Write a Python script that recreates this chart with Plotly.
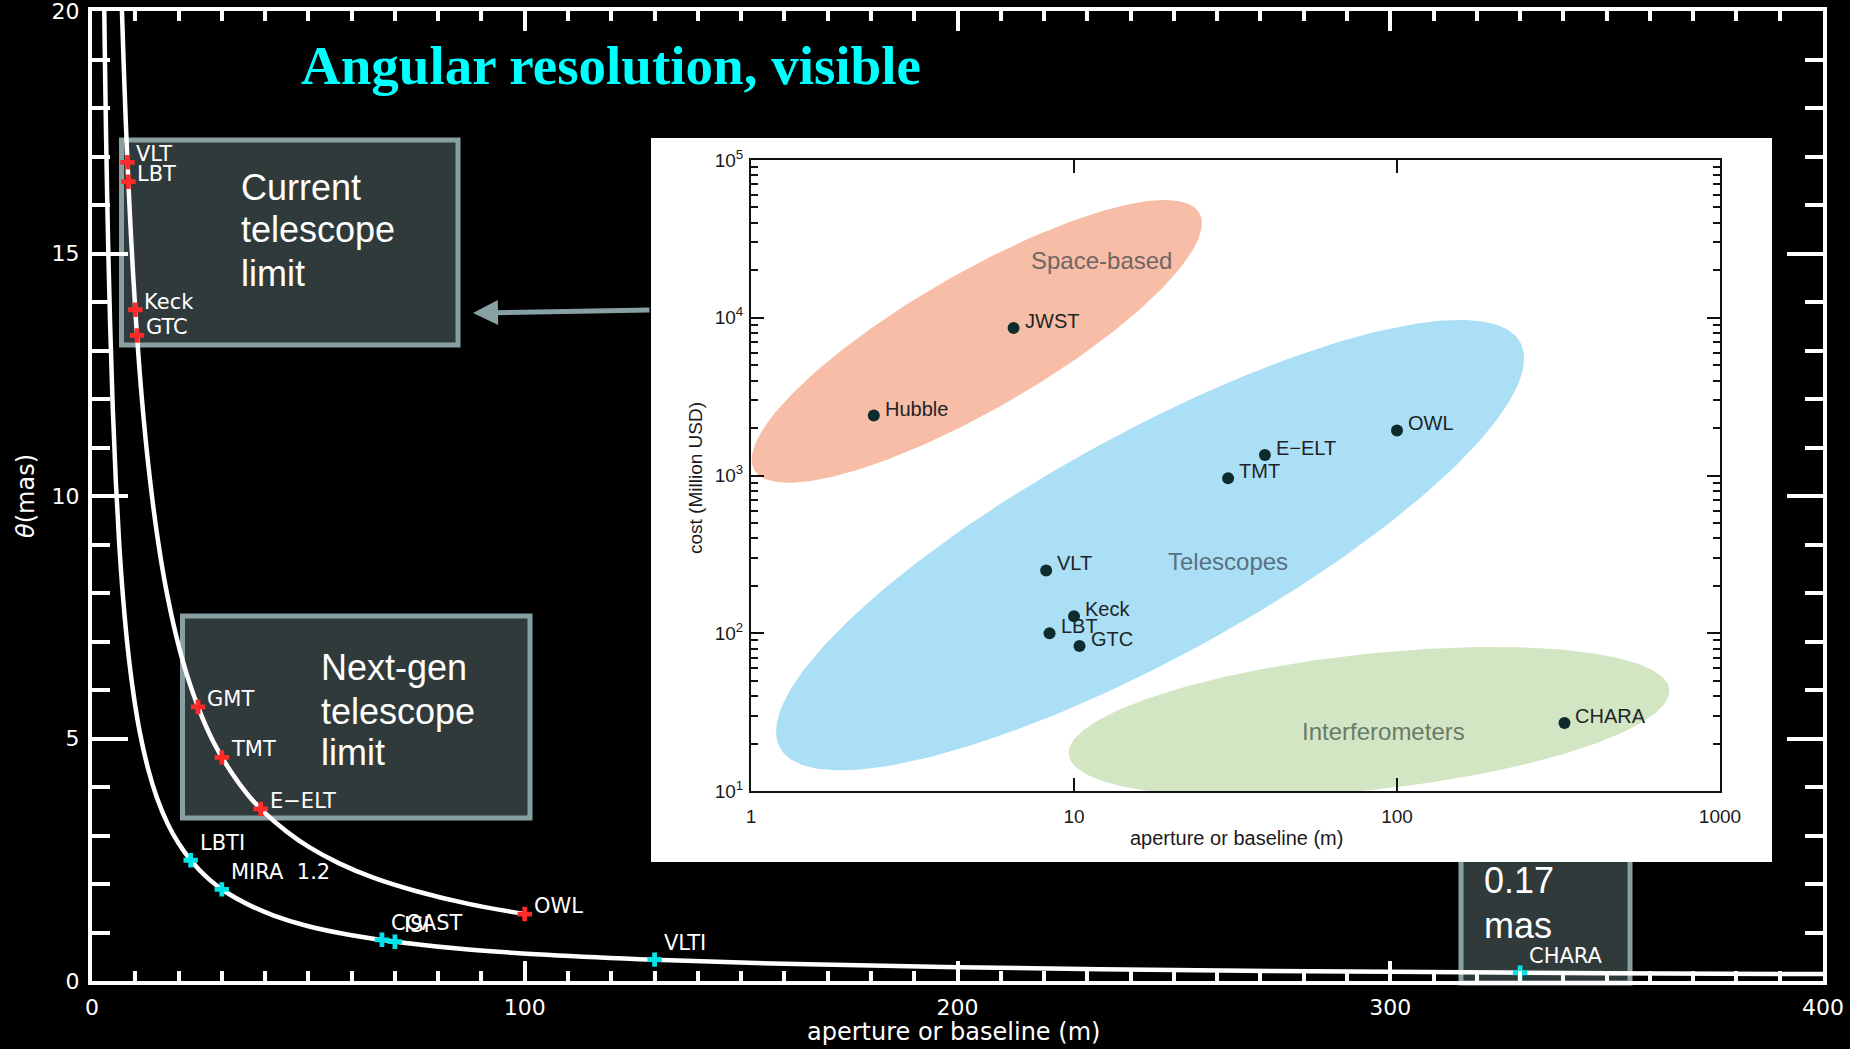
import numpy as np
import plotly.graph_objects as go

# ---------------------------------------------------------------
# Data
# ---------------------------------------------------------------
# Main panel: angular resolution (mas) vs aperture / baseline (m)
# single-dish diffraction-limit curve
dish_curve_d = [6.9, 7.3, 7.8, 8.2, 8.8, 9.5, 10.4, 11.5, 13, 15, 17, 19.5, 22,
                25, 28, 32, 36, 40, 45, 50, 57, 65, 75, 87, 100]
dish_curve_theta = [20.06, 18.96, 17.74, 16.88, 15.73, 14.57, 13.31, 12.03, 10.65,
                    9.23, 8.14, 7.10, 6.29, 5.54, 4.94, 4.33, 3.84, 3.46, 3.08,
                    2.77, 2.43, 2.13, 1.85, 1.59, 1.38]
# interferometer resolution curve
interf_curve_b = [2.8, 3.0, 3.3, 3.7, 4.2, 4.8, 5.5, 6.3, 7.2, 8.3, 9.6, 11, 13, 15,
                  17.5, 20, 23, 27, 31, 36, 42, 50, 60, 72, 87, 105, 130, 160, 200,
                  250, 300, 350, 400]
interf_curve_theta = [20.25, 18.9, 17.18, 15.32, 13.5, 11.81, 10.31, 9.0, 7.88, 6.83,
                      5.91, 5.15, 4.36, 3.78, 3.24, 2.84, 2.47, 2.10, 1.83, 1.58,
                      1.35, 1.13, 0.945, 0.79, 0.65, 0.54, 0.436, 0.354, 0.284,
                      0.227, 0.189, 0.162, 0.142]

tel_names = ["VLT", "LBT", "Keck", "GTC", "GMT", "TMT", "E\u2212ELT", "OWL"]
tel_aperture = [8.2, 8.4, 10.0, 10.4, 24.5, 30.0, 39.0, 100.0]
tel_theta = [16.88, 16.48, 13.84, 13.31, 5.65, 4.61, 3.55, 1.38]

int_names = ["LBTI", "MIRA\u00a0\u00a01.2", "COAST", "ISI", "VLTI", "CHARA"]
int_baseline = [22.8, 30.0, 67.0, 70.0, 130.0, 330.0]
int_theta = [2.49, 1.89, 0.85, 0.81, 0.44, 0.17]

main_x_ticks = [0, 100, 200, 300, 400]
main_y_ticks = [0, 5, 10, 15, 20]

# Inset: cost (Million USD) vs aperture or baseline (m)
cost_names = ["Hubble", "JWST", "VLT", "Keck", "LBT", "GTC", "TMT", "E\u2212ELT", "OWL", "CHARA"]
cost_aperture = [2.4, 6.5, 8.2, 10.0, 8.4, 10.4, 30.0, 39.0, 100.0, 330.0]
cost_musd = [2400, 8600, 250, 128, 100, 83, 960, 1350, 1930, 27]

inset_x_ticks = [1, 10, 100, 1000]
inset_x_ticktext = ["1", "10", "100", "1000"]
inset_y_ticks = [10, 100, 1000, 10000, 100000]
inset_y_ticktext = ["10<sup>1</sup>", "10<sup>2</sup>", "10<sup>3</sup>",
                    "10<sup>4</sup>", "10<sup>5</sup>"]

# ---------------------------------------------------------------
# Geometry helpers (pixel positions of the page -> paper coords)
# ---------------------------------------------------------------
W, H = 1850, 1049
L, R, T, B = 92, 1823, 11, 981          # main plot frame in page pixels


def px(x):
    return (x - L) / (R - L)


def py(y):
    return (B - y) / (B - T)


IX0, IX1, IY0, IY1 = 751, 1720, 160, 791   # inset plot frame in page pixels
SX = (IX1 - IX0) / 3.0                      # pixels per decade (x)
SY = (IY1 - IY0) / 4.0                      # pixels per decade (y)

DEJA = "DejaVu Sans"
ARIAL = "Liberation Sans, Arial, sans-serif"

fig = go.Figure()

# ---------------- main panel traces ----------------
fig.add_trace(go.Scatter(x=interf_curve_b, y=interf_curve_theta, mode="lines",
                         line=dict(color="white", width=4.5, shape="spline"),
                         hoverinfo="skip", showlegend=False))
fig.add_trace(go.Scatter(x=dish_curve_d, y=dish_curve_theta, mode="lines",
                         line=dict(color="white", width=4.5, shape="spline"),
                         hoverinfo="skip", showlegend=False))
fig.add_trace(go.Scatter(x=tel_aperture, y=tel_theta, mode="markers",
                         marker=dict(symbol="cross", size=12, color="#ff2b2b",
                                     line=dict(width=0)),
                         hoverinfo="skip", showlegend=False))
fig.add_trace(go.Scatter(x=int_baseline, y=int_theta, mode="markers",
                         marker=dict(symbol="cross", size=12, color="#00e4ea",
                                     line=dict(width=0)),
                         hoverinfo="skip", showlegend=False))

# ---------------- inset traces ----------------
regions = [
    # centre (aperture m, cost MUSD), semi-axes in px, tilt in degrees, colour
    dict(cx=5.0, cy=7080, a=257, b=68, ang=30.0, color="#f8bda7"),
    dict(cx=17.2, cy=362, a=422, b=112, ang=28.7, color="#abdff5"),
    dict(cx=81.9, cy=27.4, a=302, b=68, ang=6.2, color="#d2e6c4"),
]
tt = np.linspace(0, 2 * np.pi, 240)
for reg in regions:
    th = np.radians(reg["ang"])
    dx = reg["a"] * np.cos(tt) * np.cos(th) - reg["b"] * np.sin(tt) * np.sin(th)
    dy = reg["a"] * np.cos(tt) * np.sin(th) + reg["b"] * np.sin(tt) * np.cos(th)
    ex = 10 ** (np.log10(reg["cx"]) + dx / SX)
    ey = 10 ** (np.log10(reg["cy"]) + dy / SY)
    fig.add_trace(go.Scatter(x=ex, y=ey, mode="lines", fill="toself",
                             fillcolor=reg["color"], line=dict(width=0, color=reg["color"]),
                             xaxis="x2", yaxis="y2", hoverinfo="skip", showlegend=False))

fig.add_trace(go.Scatter(x=cost_aperture, y=cost_musd, mode="markers",
                         marker=dict(size=12, color="#0e2c2e"),
                         xaxis="x2", yaxis="y2", hoverinfo="skip", showlegend=False))

# ---------------- shapes ----------------
box_fill = "#313a3b"
box_line = "#88a0a1"
shapes = [
    dict(type="rect", xref="paper", yref="paper", x0=px(121.5), x1=px(458),
         y0=py(345), y1=py(140), fillcolor=box_fill,
         line=dict(color=box_line, width=5), layer="below"),
    dict(type="rect", xref="paper", yref="paper", x0=px(182.5), x1=px(530),
         y0=py(818), y1=py(616), fillcolor=box_fill,
         line=dict(color=box_line, width=5), layer="below"),
    dict(type="rect", xref="paper", yref="paper", x0=px(1461), x1=px(1630),
         y0=py(983), y1=py(850), fillcolor=box_fill,
         line=dict(color=box_line, width=5), layer="below"),
    # white backdrop of the inset figure
    dict(type="rect", xref="paper", yref="paper", x0=px(651), x1=px(1772),
         y0=py(862), y1=py(138), fillcolor="white", line=dict(width=0),
         layer="below"),
]

# ---------------- annotations ----------------
ann = []
for n, x, y in zip(tel_names, tel_aperture, tel_theta):
    ann.append(dict(x=x, y=y, xref="x", yref="y", text=n, showarrow=False,
                    xanchor="left", yanchor="middle", xshift=7, yshift=8,
                    font=dict(family=DEJA, size=21, color="white")))
for n, x, y in zip(int_names, int_baseline, int_theta):
    ann.append(dict(x=x, y=y, xref="x", yref="y", text=n, showarrow=False,
                    xanchor="left", yanchor="middle", xshift=7, yshift=17,
                    font=dict(family=DEJA, size=21, color="white")))

for n, x, y in zip(cost_names, cost_aperture, cost_musd):
    ann.append(dict(x=np.log10(x), y=np.log10(y), xref="x2", yref="y2", text=n,
                    showarrow=False, xanchor="left", yanchor="middle",
                    xshift=9, yshift=7,
                    font=dict(family=ARIAL, size=20, color="#1d2526")))

region_labels = [("Space-based", 1101, 260, "#6f6663"),
                 ("Telescopes", 1228, 561, "#587080"),
                 ("Interferometers", 1383, 731, "#6a7a68")]
for txt, xx, yy, col in region_labels:
    ann.append(dict(x=px(xx), y=py(yy), xref="paper", yref="paper", text=txt,
                    showarrow=False, xanchor="center", yanchor="middle",
                    font=dict(family=ARIAL, size=24, color=col)))

# inset axis titles
ann.append(dict(x=px(1236), y=py(838), xref="paper", yref="paper",
                text="aperture or baseline (m)", showarrow=False,
                xanchor="center", yanchor="middle",
                font=dict(family=ARIAL, size=20, color="#1a1a1a")))
ann.append(dict(x=px(696), y=py(478), xref="paper", yref="paper",
                text="cost (Million USD)", showarrow=False, textangle=-90,
                xanchor="center", yanchor="middle",
                font=dict(family=ARIAL, size=19, color="#1a1a1a")))

# main axis titles
ann.append(dict(x=px(953), y=py(1032), xref="paper", yref="paper",
                text="aperture or baseline (m)", showarrow=False,
                xanchor="center", yanchor="middle",
                font=dict(family=DEJA, size=24, color="white")))
ann.append(dict(x=px(26), y=py(496), xref="paper", yref="paper",
                text="<i>\u03b8</i>(mas)", showarrow=False, textangle=-90,
                xanchor="center", yanchor="middle",
                font=dict(family=DEJA, size=24, color="white")))

# title
ann.append(dict(x=px(299), y=py(65), xref="paper", yref="paper",
                text="<b>Angular resolution, visible</b>", showarrow=False,
                xanchor="left", yanchor="middle",
                font=dict(family="Liberation Serif, Times New Roman, serif",
                          size=55, color="#00ffff")))

# box texts
box_lines = [("Current", 239, 187), ("telescope", 239, 230), ("limit", 239, 273),
             ("Next-gen", 319, 667), ("telescope", 319, 711), ("limit", 319, 752),
             ("0.17", 1482, 880), ("mas", 1482, 925)]
for txt, xx, yy in box_lines:
    ann.append(dict(x=px(xx), y=py(yy), xref="paper", yref="paper", text=txt,
                    showarrow=False, xanchor="left", yanchor="middle",
                    font=dict(family=ARIAL, size=36, color="white")))

# arrow from inset to "current telescope limit" box
ann.append(dict(x=px(473), y=py(313), xref="paper", yref="paper", text="",
                showarrow=True, ax=651 - 473, ay=310 - 313, axref="pixel",
                ayref="pixel", arrowhead=2, arrowsize=1, arrowwidth=5,
                arrowcolor=box_line, standoff=0, startstandoff=0))

# ---------------- layout ----------------
tick_font_main = dict(family=DEJA, size=22, color="white")
inset_minor = [k * 10 ** e for e in range(1, 5) for k in range(2, 10)]

fig.update_layout(
    width=W, height=H,
    margin=dict(l=L, r=W - R, t=T, b=H - B, pad=0, autoexpand=False),
    paper_bgcolor="black",
    plot_bgcolor="rgba(0,0,0,0)",
    showlegend=False,
    hovermode=False,
    shapes=shapes,
    annotations=ann,
    xaxis=dict(domain=[0, 1], range=[0, 400], anchor="y", automargin=False,
               tickmode="array", tickvals=main_x_ticks,
               ticks="inside", ticklen=20, tickwidth=3.5, tickcolor="white",
               minor=dict(tickmode="linear", tick0=0, dtick=10, ticks="inside",
                          ticklen=10, tickwidth=3.5, tickcolor="white",
                          showgrid=False),
               showline=True, linecolor="white", linewidth=4, mirror="allticks",
               showgrid=False, zeroline=False, tickfont=tick_font_main,
               ticklabelstandoff=4, ticklabeloverflow="allow"),
    yaxis=dict(domain=[0, 1], range=[0, 20], anchor="x", automargin=False,
               tickmode="array", tickvals=main_y_ticks,
               ticks="inside", ticklen=36, tickwidth=3.5, tickcolor="white",
               minor=dict(tickmode="linear", tick0=0, dtick=1, ticks="inside",
                          ticklen=18, tickwidth=3.5, tickcolor="white",
                          showgrid=False),
               showline=True, linecolor="white", linewidth=4, mirror="allticks",
               showgrid=False, zeroline=False, tickfont=tick_font_main,
               ticklabelstandoff=4, ticklabeloverflow="allow"),
    xaxis2=dict(domain=[px(IX0), px(IX1)], anchor="y2", type="log", range=[0, 3],
                automargin=False,
                tickmode="array", tickvals=inset_x_ticks, ticktext=inset_x_ticktext,
                ticks="inside", ticklen=13, tickwidth=2, tickcolor="#111",
                showline=True, linecolor="#111", linewidth=2, mirror="allticks",
                showgrid=False, zeroline=False,
                tickfont=dict(family=ARIAL, size=19, color="#1a1a1a"),
                ticklabelstandoff=7),
    yaxis2=dict(domain=[py(IY1), py(IY0)], anchor="x2", type="log", range=[1, 5],
                automargin=False,
                tickmode="array", tickvals=inset_y_ticks, ticktext=inset_y_ticktext,
                ticks="inside", ticklen=13, tickwidth=2, tickcolor="#111",
                minor=dict(tickmode="array", tickvals=inset_minor, ticks="inside",
                           ticklen=7, tickwidth=2, tickcolor="#111", showgrid=False),
                showline=True, linecolor="#111", linewidth=2, mirror="allticks",
                showgrid=False, zeroline=False,
                tickfont=dict(family=ARIAL, size=19, color="#1a1a1a"),
                ticklabelstandoff=2),
)

fig.write_html(
    "out.html",
    config={"displayModeBar": False},
    post_script="document.body.style.margin='0';document.body.style.background='#000';"
                "document.body.style.overflow='hidden';",
)
